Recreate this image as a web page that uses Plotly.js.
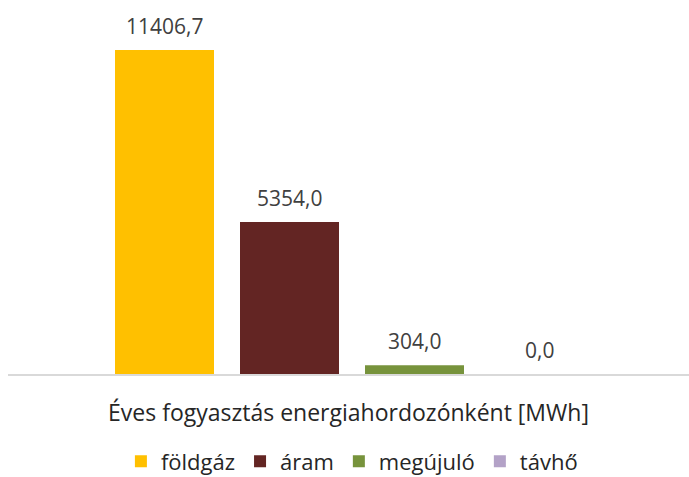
<!DOCTYPE html>
<html>
<head>
<meta charset="utf-8">
<script src="https://cdn.plot.ly/plotly-3.0.1.min.js"></script>
<style>html,body{margin:0;padding:0;background:#fff;}#chart{width:689px;height:477px;}</style>
</head>
<body>
<div id="chart"></div>
<script>
const categories = ['földgáz', 'áram', 'megújuló', 'távhő'];
const values = [11406.7, 5354.0, 304.0, 0.0];
const colors = ['#FFC000', '#632523', '#77933C', '#B3A2C7'];
const axisLabel = 'Éves fogyasztás energiahordozónként [MWh]';

const FONT = 'Open Sans, sans-serif';
const fmt = v => v.toFixed(1).replace('.', ',');

const traces = categories.map((c, i) => ({
  type: 'bar',
  name: c,
  x: [c],
  y: [values[i]],
  marker: {color: colors[i]},
  hoverinfo: 'none'
}));

const annotations = categories.map((c, i) => ({
  x: c, y: values[i], xref: 'x', yref: 'y',
  text: fmt(values[i]), showarrow: false,
  yanchor: 'middle', yshift: 24,
  font: {family: FONT, size: 21, color: '#404040'}
}));

const layout = {
  width: 689, height: 477,
  margin: {l: 8, r: 0, t: 10, b: 103, autoexpand: false},
  paper_bgcolor: '#fff', plot_bgcolor: '#fff',
  barmode: 'overlay',
  bargap: 0.208,
  showlegend: true,
  legend: {
    orientation: 'h', x: 0.505, xanchor: 'center', xref: 'paper',
    y: -0.24, yanchor: 'middle',
    font: {family: FONT, size: 22, color: '#262626'},
    itemclick: false
  },
  xaxis: {
    type: 'category',
    categoryorder: 'array', categoryarray: categories,
    range: [-1.252, 4.196],
    showticklabels: false, ticks: '',
    showline: true, linecolor: '#d9d9d9', linewidth: 1.5,
    showgrid: false, zeroline: false,
    title: {text: axisLabel, standoff: 30, font: {family: FONT, size: 23, color: '#262626'}}
  },
  yaxis: {
    range: [0, 12812],
    visible: false, showgrid: false, zeroline: false
  },
  annotations: annotations
};

Plotly.newPlot('chart', traces, layout, {displayModeBar: false, staticPlot: true});
</script>
</body>
</html>
